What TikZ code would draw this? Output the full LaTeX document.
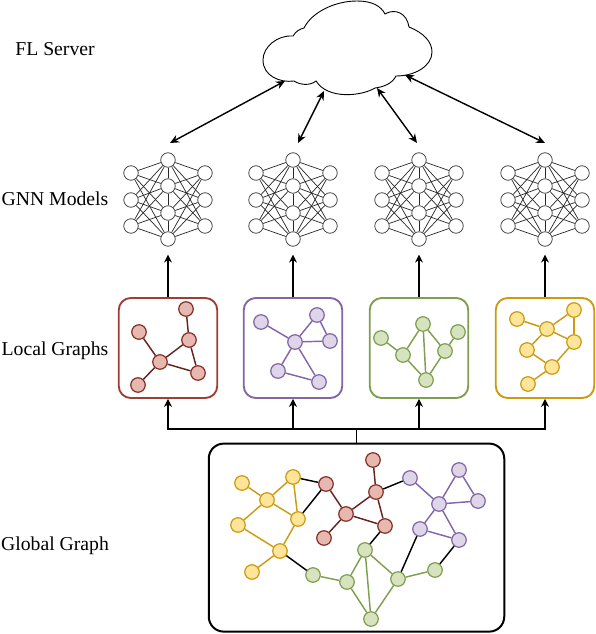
\documentclass[tikz,border=0pt]{standalone}
\usepackage{fontspec}
\setmainfont{Liberation Serif}
\usetikzlibrary{arrows.meta,positioning}
\definecolor{redFill}{RGB}{230,184,175}
\definecolor{redLine}{RGB}{133,50,38}
\definecolor{redEdge}{RGB}{100,35,30}
\definecolor{redFrame}{RGB}{158,62,52}
\definecolor{violetFill}{RGB}{222,214,232}
\definecolor{violetLine}{RGB}{130,102,168}
\definecolor{greenFill}{RGB}{215,227,190}
\definecolor{greenLine}{RGB}{128,158,80}
\definecolor{yellowFill}{RGB}{255,229,153}
\definecolor{yellowLine}{RGB}{204,155,16}
\tikzset{
  gVertex/.style={circle,draw=#1Line,fill=#1Fill,line width=1.2pt,minimum size=14.5pt,inner sep=0pt},
  gEdge/.style={line width=1.45pt,#1},
  netUnit/.style={circle,draw=black!80,fill=white,line width=0.7pt,minimum size=14.5pt,inner sep=0pt},
  netEdge/.style={line width=0.7pt,black!85},
  localBox/.style={rectangle,rounded corners=12pt,draw=#1,fill=white,line width=1.9pt,
                   minimum width=98.5pt,minimum height=100pt,inner sep=0pt},
  flowArrow/.style={-{Stealth[length=8pt,width=8pt]},line width=1.05pt},
  bothArrow/.style={{Stealth[length=9pt,width=8pt]}-{Stealth[length=9pt,width=8pt]},line width=1.4pt},
  rowLabel/.style={font=\fontsize{19.7}{22}\selectfont,inner sep=0pt},
}
\begin{document}
\begin{tikzpicture}[x=1pt,y=-1pt]
  \useasboundingbox (0,0) rectangle (596,634);
  % row labels
  \node[rowLabel](lserver) at (55,49){FL Server};
  \node[rowLabel](lgnn) at (55,199){GNN Models};
  \node[rowLabel](llocal) at (55,351){Local Graphs};
  \node[rowLabel](lglobal) at (55,546){Global Graph};
  % cloud
  \draw[line width=0.9pt,fill=white] (293,36) .. controls (296,31) and (300,29) .. (304,28)
    .. controls (312,12) and (335,1) .. (357,1)
    .. controls (372,1) and (381,6) .. (385,14)
    .. controls (395,8) and (407,13) .. (409,27)
    .. controls (424,33) and (432,42) .. (432,52)
    .. controls (432,66) and (415,76) .. (396,76)
    .. controls (392,84) and (383,87) .. (375,88)
    .. controls (362,96) and (328,100) .. (316,81)
    .. controls (310,86) and (300,85) .. (294,81)
    .. controls (280,83) and (263,76) .. (263,60)
    .. controls (263,47) and (277,35) .. (293,36) -- cycle;
  \coordinate (cloudA) at (285,81);
  \coordinate (cloudB) at (324,91);
  \coordinate (cloudC) at (377,88);
  \coordinate (cloudD) at (405,75);
  \coordinate (netA) at (170,143);
  \coordinate (netB) at (298,143);
  \coordinate (netC) at (417,143);
  \coordinate (netD) at (545,143);
  \foreach \x/\y in {cloudA/netA,cloudB/netB,cloudC/netC,cloudD/netD}{\draw[bothArrow](\x)--(\y);}
  % gnn models
  \foreach \k/\c in {1/168,2/293,3/419,4/545}{
    \foreach \n/\dx/\y in {l1/-37/173,l2/-37/200,l3/-37/226,r1/37/173,r2/37/200,r3/37/226,
                           m1/0/160,m2/0/186,m3/0/213,m4/0/239}{
      \node[netUnit](n\k\n) at (\c+\dx,\y){};
    }
    \foreach \a in {l1,l2,l3,r1,r2,r3}{
      \foreach \b in {m1,m2,m3,m4}{\draw[netEdge](n\k\a)--(n\k\b);}
    }
    \foreach \x/\y in {m1/m2,m2/m3,m3/m4}{\draw[netEdge](n\k\x)--(n\k\y);}
  }
  % local graphs
  \node[localBox=redFrame](boxR) at (168,348){};
  \node[localBox=violetLine](boxV) at (293,348){};
  \node[localBox=greenLine](boxG) at (419,348){};
  \node[localBox=yellowLine](boxY) at (545,348){};
  \foreach \x/\y in {boxR/n1m4,boxV/n2m4,boxG/n3m4,boxY/n4m4}{
    \draw[flowArrow,shorten >=8pt](\x.north)--(\y.south);
  }
  \foreach \n/\x/\y in {a/186/309,b/139/332,c/189/340,d/160/362,e/198/373,f/138/385}{
    \node[gVertex=red](r\n) at (\x,\y){};
  }
  \foreach \x/\y in {a/c,b/d,c/d,c/e,d/e,d/f}{\draw[gEdge=redEdge](r\x)--(r\y);}
  \foreach \n/\x/\y in {a/261/322,b/317/315,c/295/342,d/330/341,e/278/371,f/319/382}{
    \node[gVertex=violet](v\n) at (\x,\y){};
  }
  \foreach \x/\y in {a/c,b/c,b/d,c/d,c/e,c/f,e/f}{\draw[gEdge=violetLine](v\x)--(v\y);}
  \foreach \n/\x/\y in {a/381/338,b/423/324,c/458/332,d/403/355,e/445/351,f/426/380}{
    \node[gVertex=green](g\n) at (\x,\y){};
  }
  \foreach \x/\y in {a/d,d/b,d/f,b/f,b/e,e/c,e/f}{\draw[gEdge=greenLine](g\x)--(g\y);}
  \foreach \n/\x/\y in {a/517/319,b/574/310,c/547/329,d/574/342,e/527/350,f/552/367,h/528/384}{
    \node[gVertex=yellow](y\n) at (\x,\y){};
  }
  \foreach \x/\y in {a/c,c/b,b/d,c/d,c/e,e/f,d/f,f/h}{\draw[gEdge=yellowLine](y\x)--(y\y);}
  % global graph
  \node[rectangle,rounded corners=15pt,draw=black,line width=2pt,minimum width=295.5pt,
        minimum height=188pt,inner sep=0pt](boxAll) at (356.5,537.6){};
  \coordinate (bus) at (boxAll.north |- 0,429);
  \draw[line width=1.5pt](boxAll.north)--(bus);
  \foreach \x in {boxR,boxV,boxG,boxY}{\draw[flowArrow](bus)-|(\x.south);}
  \foreach \n/\x/\y in {a/242/483,b/293/477,c/267/500,d/298/519,e/238/525,f/280/551,h/252/572}{
    \node[gVertex=yellow](ty\n) at (\x,\y){};
  }
  \foreach \x/\y in {a/c,c/b,c/d,b/d,c/e,e/f,d/f,f/h}{\draw[gEdge=yellowLine](ty\x)--(ty\y);}
  \foreach \n/\x/\y in {a/373/460,b/326/484,c/376/492,d/346/514,e/385/526,f/324/538}{
    \node[gVertex=red](tr\n) at (\x,\y){};
  }
  \foreach \x/\y in {a/c,c/d,c/e,d/e,b/d,d/f}{\draw[gEdge=redEdge](tr\x)--(tr\y);}
  \foreach \n/\x/\y in {a/410/478,b/459/470,c/439/504,d/478/501,e/420/529,f/459/540}{
    \node[gVertex=violet](tv\n) at (\x,\y){};
  }
  \foreach \x/\y in {a/c,b/c,b/d,c/d,c/e,c/f,e/f}{\draw[gEdge=violetLine](tv\x)--(tv\y);}
  \foreach \n/\x/\y in {a/313/575,b/347/582,c/365/550,d/398/579,e/435/570,f/371/619}{
    \node[gVertex=green](tg\n) at (\x,\y){};
  }
  \foreach \x/\y in {a/b,b/c,b/f,c/f,c/d,d/f,d/e}{\draw[gEdge=greenLine](tg\x)--(tg\y);}
  \foreach \x/\y in {tyb/trb,tyd/trb,tyf/tga,trc/tva,tre/tgc,tve/tgd,tvf/tge}{\draw[gEdge=black](\x)--(\y);}
\end{tikzpicture}
\end{document}
